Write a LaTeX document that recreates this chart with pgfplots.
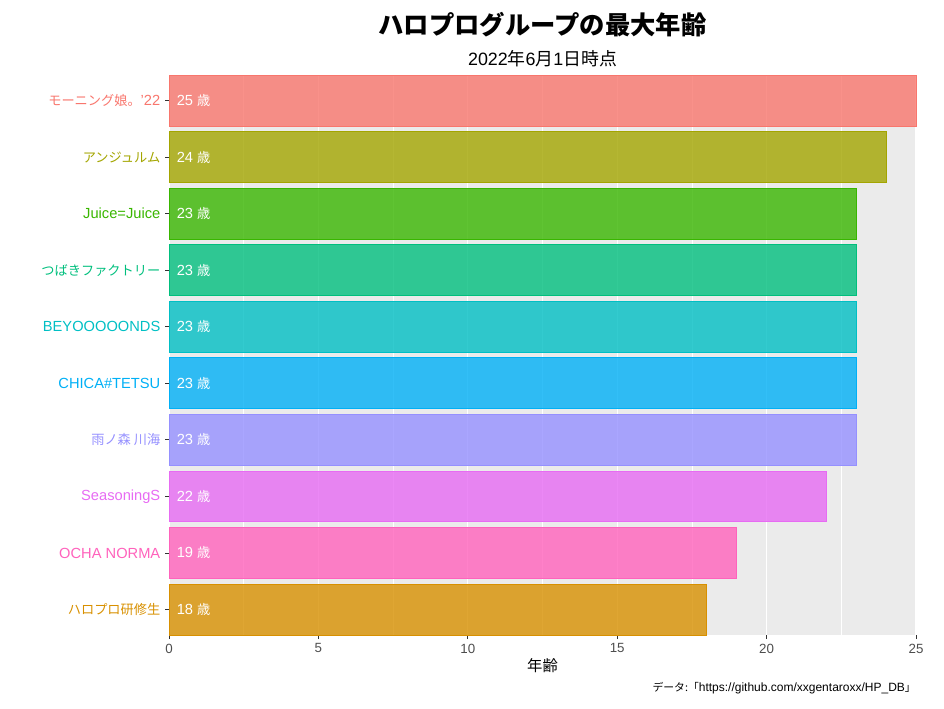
\documentclass[border=0pt]{standalone}
\usepackage{pgfplots}
\pgfplotsset{compat=1.18}
\usepackage{fontspec}
\setmainfont{Liberation Sans}
\newfontfamily\jp{Noto Sans CJK JP}
\newfontfamily\jpl[Scale=0.9]{Noto Sans CJK JP}
\definecolor{cmm}{HTML}{F8766D}
\definecolor{cang}{HTML}{A3A500}
\definecolor{cjj}{HTML}{39B600}
\definecolor{ctsu}{HTML}{00BF7D}
\definecolor{cbey}{HTML}{00BFC4}
\definecolor{cchi}{HTML}{00B0F6}
\definecolor{came}{HTML}{9590FF}
\definecolor{csea}{HTML}{E76BF3}
\definecolor{coch}{HTML}{FF62BC}
\definecolor{cken}{HTML}{D89000}
\definecolor{panelbg}{HTML}{EBEBEB}
\definecolor{tickc}{HTML}{333333}
\definecolor{ticklab}{HTML}{4D4D4D}
\pgfplotsset{
  gbar/.style={xbar, bar shift=0pt, bar width=0.9, fill=#1, fill opacity=0.8, draw=#1, line width=0.6pt},
}
\begin{document}
\begin{tikzpicture}
\useasboundingbox (0,0) rectangle (708pt,531pt);
\begin{axis}[
  at={(126.75pt,54.75pt)}, anchor=south west,
  scale only axis, width=560.25pt, height=420pt,
  xmin=0, xmax=25,
  ymin=0.55, ymax=10.45, y dir=reverse,
  ytick={1,...,10},
  yticklabels={
    {\textcolor{cmm}{{\jpl モーニング娘。}'22}},
    {\textcolor{cang}{\jpl アンジュルム}},
    {\textcolor{cjj}{Juice=Juice}},
    {\textcolor{ctsu}{\jpl つばきファクトリー}},
    {\textcolor{cbey}{BEYOOOOONDS}},
    {\textcolor{cchi}{CHICA\#TETSU}},
    {\textcolor{came}{\jpl 雨ノ森 川海}},
    {\textcolor{csea}{SeasoningS}},
    {\textcolor{coch}{OCHA NORMA}},
    {\textcolor{cken}{\jpl ハロプロ研修生}}
  },
  xtick={0,5,10,15,20,25},
  minor xtick={2.5,7.5,12.5,17.5,22.5},
  xmajorgrids, xminorgrids,
  major grid style={white, line width=0.8pt},
  minor grid style={white, line width=0.4pt},
  axis background/.style={fill=panelbg},
  axis line style={draw=none},
  tick align=outside, tick pos=left,
  major tick length=3pt, minor tick length=0pt,
  tick style={tickc, line width=0.6pt},
  yticklabel style={font=\fontsize{11}{13}\selectfont},
  xticklabel style={font=\fontsize{10}{12}\selectfont, text=ticklab},
  /pgf/number format/assume math mode=true,
  clip=false,
]
\addplot[gbar=cmm] coordinates {(25,1)};
\addplot[gbar=cang] coordinates {(24,2)};
\addplot[gbar=cjj] coordinates {(23,3)};
\addplot[gbar=ctsu] coordinates {(23,4)};
\addplot[gbar=cbey] coordinates {(23,5)};
\addplot[gbar=cchi] coordinates {(23,6)};
\addplot[gbar=came] coordinates {(23,7)};
\addplot[gbar=csea] coordinates {(22,8)};
\addplot[gbar=coch] coordinates {(19,9)};
\addplot[gbar=cken] coordinates {(18,10)};
\addplot[draw=none, mark=none, point meta=explicit symbolic,
  nodes near coords={\pgfplotspointmeta\ {\jpl 歳}},
  nodes near coords style={anchor=west, text=white, font=\fontsize{11}{13}\selectfont, xshift=2.3pt}]
  coordinates {(0,1) [25] (0,2) [24] (0,3) [23] (0,4) [23] (0,5) [23]
               (0,6) [23] (0,7) [23] (0,8) [22] (0,9) [19] (0,10) [18]};
\end{axis}
\node[font=\jp\bfseries\fontsize{19}{22}\selectfont] at (406.9pt,512.25pt) {ハロプログループの最大年齢};
\node[font=\fontsize{13.4}{16}\selectfont] at (406.9pt,487.1pt) {2022{\jp 年}6{\jp 月}1{\jp 日時点}};
\node[font=\jp\fontsize{11.5}{14}\selectfont] at (406.9pt,31.9pt) {年齢};
\node[font=\fontsize{9}{11}\selectfont, anchor=east, inner sep=0pt] at (687pt,15pt) {{\jpl データ:「}https://github.com/xxgentaroxx/HP\_DB{\jpl 」}};
\end{tikzpicture}
\end{document}
